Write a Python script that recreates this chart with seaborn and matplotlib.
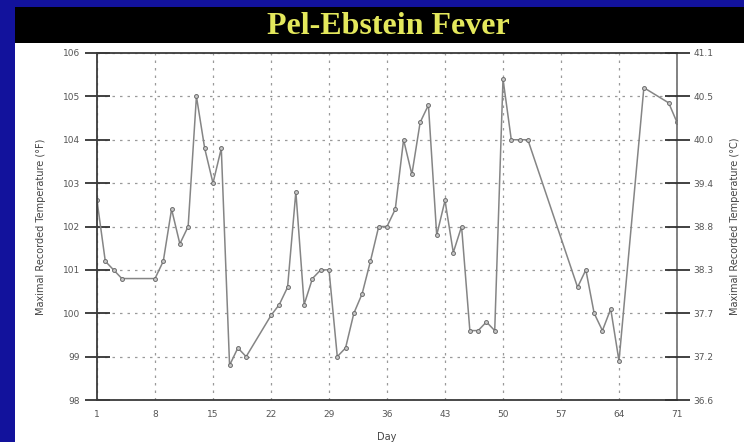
import matplotlib
matplotlib.use("Agg")
import matplotlib.pyplot as plt
import seaborn as sns
import pandas as pd
from matplotlib.patches import Rectangle

days = [1, 2, 3, 4, 8, 9, 10, 11, 12, 13, 14, 15, 16, 17, 18, 19,
        22, 23, 24, 25, 26, 27, 28, 29, 30, 31, 32, 33, 34, 35, 36, 37,
        38, 39, 40, 41, 42, 43, 44, 45, 46, 47, 48, 49, 50, 51, 52, 53,
        59, 60, 61, 62, 63, 64, 67, 70, 71]
temps_f = [102.6, 101.2, 101.0, 100.8, 100.8, 101.2, 102.4, 101.6, 102.0, 105.0,
           103.8, 103.0, 103.8, 98.8, 99.2, 99.0,
           99.95, 100.2, 100.6, 102.8, 100.2, 100.8, 101.0, 101.0, 99.0, 99.2,
           100.0, 100.45, 101.2, 102.0, 102.0, 102.4,
           104.0, 103.2, 104.4, 104.8, 101.8, 102.6, 101.4, 102.0, 99.6, 99.6,
           99.8, 99.6, 105.4, 104.0, 104.0, 104.0,
           100.6, 101.0, 100.0, 99.6, 100.1, 98.9, 105.2, 104.85, 104.4]

x_ticks = [1, 8, 15, 22, 29, 36, 43, 50, 57, 64, 71]
f_ticks = [98, 99, 100, 101, 102, 103, 104, 105, 106]
c_labels = ["36.6", "37.2", "37.7", "38.3", "38.8", "39.4", "40.0", "40.5", "41.1"]

title = "Pel-Ebstein Fever"
xlabel = "Day"
ylabel_f = "Maximal Recorded Temperature (\u00b0F)"
ylabel_c = "Maximal Recorded Temperature (\u00b0C)"

df = pd.DataFrame({"day": days, "temp": temps_f})

sns.set_theme(style="white")
plt.rcParams["font.family"] = ["DejaVu Sans"]

W, H = 744, 442
fig = plt.figure(figsize=(W / 100, H / 100), dpi=100, facecolor="#12129c")

# white panel
fig.patches.append(Rectangle((15 / W, 0), 1 - 15 / W, 1 - 43 / H,
                             transform=fig.transFigure, facecolor="white",
                             edgecolor="none", zorder=-5))
# black title bar
fig.patches.append(Rectangle((15 / W, 1 - 43 / H), 1 - 15 / W, 36 / H,
                             transform=fig.transFigure, facecolor="black",
                             edgecolor="none", zorder=-5))
fig.text(388 / W, 1 - 27 / H, title, ha="center", va="center",
         fontsize=23, fontweight="bold", color="#e4e85c",
         family=["Liberation Serif", "DejaVu Serif"])

ax = fig.add_axes([97 / W, 1 - 400 / H, (677 - 97) / W, (400 - 53) / H])
ax.set_facecolor("white")

sns.lineplot(data=df, x="day", y="temp", ax=ax, color="#858585", linewidth=1.1,
             marker="o", markersize=2.8, markerfacecolor="#c8c8c8",
             markeredgecolor="#6a6a6a", markeredgewidth=0.7)

ax.set_xlim(1, 71)
ax.set_ylim(98, 106)
ax.set_xticks(x_ticks)
ax.set_yticks(f_ticks)
ax.set_xticklabels([str(v) for v in x_ticks])
ax.set_yticklabels([str(v) for v in f_ticks])

ax.grid(True, color="#9a9a9a", linestyle=(0, (2, 4)), linewidth=0.9)
for s in ["left", "bottom", "top"]:
    ax.spines[s].set_color("#3a3a3a")
    ax.spines[s].set_linewidth(1.3)
ax.spines["right"].set_color("#777777")
ax.spines["right"].set_linewidth(1.3)

ax.tick_params(axis="y", direction="inout", length=18, width=1.3, color="#333333",
               labelsize=6.5, labelcolor="#555555", pad=3)
ax.tick_params(axis="x", direction="inout", length=9, width=1.2, color="#333333",
               labelsize=6.5, labelcolor="#555555", pad=3)

ax.set_xlabel(xlabel, fontsize=7, color="#444444", labelpad=9)
ax.set_ylabel(ylabel_f, fontsize=7, color="#444444", labelpad=12)

ax2 = ax.twinx()
ax2.set_ylim(98, 106)
ax2.set_yticks(f_ticks)
ax2.set_yticklabels(c_labels)
ax2.tick_params(axis="y", direction="inout", length=18, width=1.3, color="#333333",
                labelsize=6.5, labelcolor="#555555", pad=3)
for s in ax2.spines.values():
    s.set_visible(False)
ax2.set_ylabel(ylabel_c, fontsize=7, color="#444444", labelpad=12, rotation=90)

fig.savefig("out.png", dpi=100, facecolor=fig.get_facecolor())
